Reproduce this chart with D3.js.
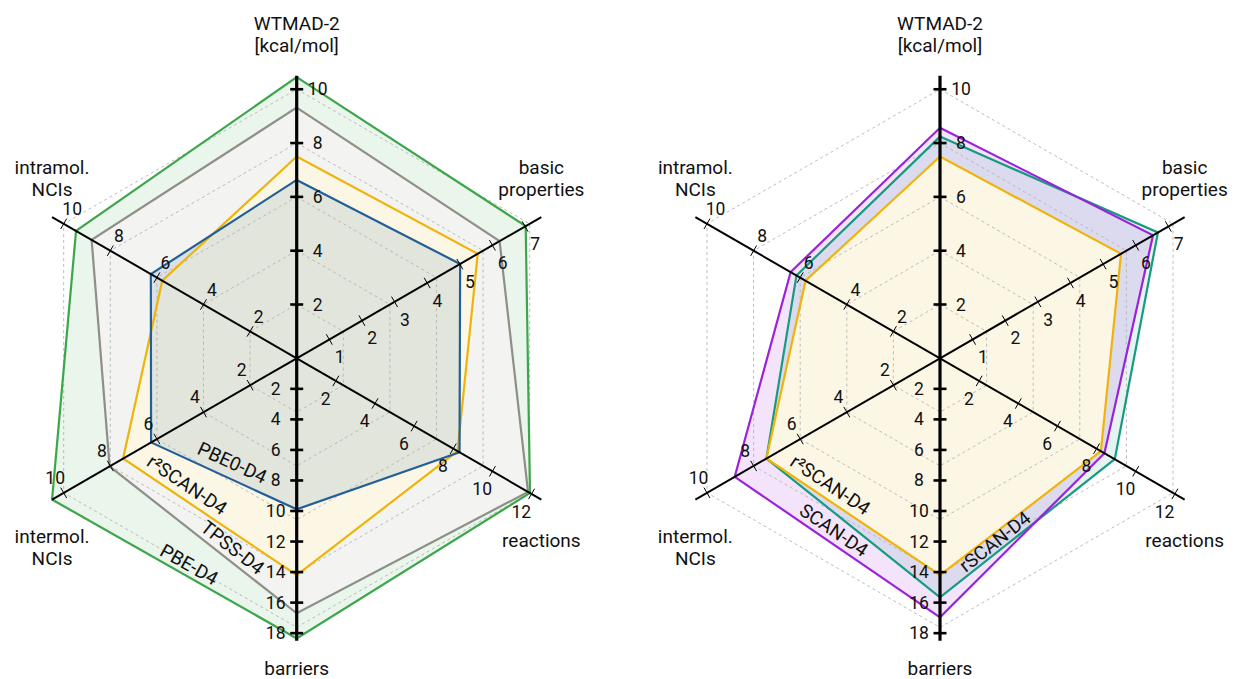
<!DOCTYPE html>
<html>
<head>
<meta charset="utf-8">
<script src="https://cdn.jsdelivr.net/npm/d3@7"></script>
<style>
  html, body { margin: 0; padding: 0; background: #fff; }
  svg { display: block; font-family: Roboto, "Liberation Sans", sans-serif; }
</style>
</head>
<body>
<svg id="chart" width="1234" height="679"></svg>
<script>
// ---- axes (clockwise from the top) ----
const axisTitles = [
  ["WTMAD-2", "[kcal/mol]"],
  ["basic", "properties"],
  ["reactions"],
  ["barriers"],
  ["intermol.", "NCIs"],
  ["intramol.", "NCIs"]
];
const axisMax = [10.5, 7.5, 12.5, 18.5, 10.5, 10.5];
const ticksWtmad = [2, 4, 6, 8, 10];
const ticksBasic = [1, 2, 3, 4, 5, 6, 7];
const ticksReactions = [2, 4, 6, 8, 10, 12];
const ticksBarriers = [2, 4, 6, 8, 10, 12, 14, 16, 18];
const ticksInter = [2, 4, 6, 8, 10];
const ticksIntra = [2, 4, 6, 8, 10];
const axisTicks = [ticksWtmad, ticksBasic, ticksReactions, ticksBarriers, ticksInter, ticksIntra];

// ---- mean absolute deviations per functional, in axis order ----
const pbeD4    = [10.45, 7.02, 11.92, 18.34, 10.50, 9.47];
const tpssD4   = [9.32, 6.22, 11.82, 16.70, 8.03, 8.80];
const r2scanD4 = [7.50, 5.55, 8.22, 14.20, 7.45, 5.77];
const pbe0D4   = [6.63, 5.01, 8.32, 9.89, 6.25, 6.26];
const scanD4   = [8.57, 6.53, 8.40, 16.96, 8.81, 6.41];
const rscanD4  = [8.24, 6.68, 8.93, 15.65, 7.45, 6.16];

// ---- series styling and label placement (edge between two axes) ----
const leftSeries = [
  { name: "PBE-D4",    values: pbeD4,    color: "#3ca64b", fill: "#3ca64b", fillOpacity: 0.11, label: { from: 4, to: 3, t: 0.538, off: 11 } },
  { name: "TPSS-D4",   values: tpssD4,   color: "#8e8f88", fill: "#f3f3f1", fillOpacity: 1,    label: { from: 4, to: 3, t: 0.617, off: 12 } },
  { name: "r²SCAN-D4", values: r2scanD4, color: "#efb40c", fill: "#fcf7e5", fillOpacity: 1,    label: { from: 4, to: 3, t: 0.324, off: 13.7 } },
  { name: "PBE0-D4",   values: pbe0D4,   color: "#225f99", fill: "#225f99", fillOpacity: 0.12, label: { from: 4, to: 3, t: 0.513, off: 15.5 } }
];
const rightSeries = [
  { name: "rSCAN-D4",  values: rscanD4,  color: "#169a80", fill: "#169a80", fillOpacity: 0.11, label: { from: 3, to: 2, t: 0.348, off: 9.5 } },
  { name: "SCAN-D4",   values: scanD4,   color: "#9b22dc", fill: "#9b22dc", fillOpacity: 0.12, label: { from: 4, to: 3, t: 0.45, off: 12 } },
  { name: "r²SCAN-D4", values: r2scanD4, color: "#efb40c", fill: "#fcf7e5", fillOpacity: 1,    label: { from: 4, to: 3, t: 0.324, off: 13.7 } }
];

const R = 282.5;
const svg = d3.select("#chart");
const angles = axisMax.map((_, i) => i * Math.PI / 3);
const scales = axisMax.map(m => d3.scaleLinear().domain([0, m]).range([0, R]));

function drawRadar(cx, cy, series) {
  const g = svg.append("g").attr("transform", `translate(${cx},${cy})`);
  const pt = (i, r) => [r * Math.sin(angles[i]), -r * Math.cos(angles[i])];
  const polyPoints = vals => vals.map((v, i) => pt(i, scales[i](v)));
  const line = d3.line().curve(d3.curveLinearClosed);

  // filled areas
  g.append("g").selectAll("path").data(series).join("path")
    .attr("d", s => line(polyPoints(s.values)))
    .attr("fill", s => s.fill)
    .attr("fill-opacity", s => s.fillOpacity)
    .attr("stroke", "none");

  // dashed hexagonal grid at the WTMAD-2 tick radii
  g.append("g").selectAll("path").data(ticksWtmad).join("path")
    .attr("d", v => line(angles.map((_, i) => pt(i, scales[0](v)))))
    .attr("fill", "none")
    .attr("stroke", "#b4b4b4")
    .attr("stroke-width", 0.9)
    .attr("stroke-dasharray", "3,3");

  // outlines
  g.append("g").selectAll("path").data(series).join("path")
    .attr("d", s => line(polyPoints(s.values)))
    .attr("fill", "none")
    .attr("stroke", s => s.color)
    .attr("stroke-width", 2.2)
    .attr("stroke-linejoin", "miter");

  // axes with ticks and tick labels
  const ax = g.append("g");
  angles.forEach((a, i) => {
    const vertical = (i === 0 || i === 3);
    const [ex, ey] = pt(i, R);
    ax.append("line")
      .attr("x1", 0).attr("y1", 0).attr("x2", ex).attr("y2", ey)
      .attr("stroke", "#000")
      .attr("stroke-width", vertical ? 3.2 : 2);
    const ux = Math.sin(a), uy = -Math.cos(a);   // along the axis
    const px = -uy, py = ux;                       // clockwise normal
    axisTicks[i].forEach(v => {
      const r = scales[i](v);
      const tx = ux * r, ty = uy * r;
      const half = vertical ? 6.5 : 6;
      ax.append("line")
        .attr("x1", tx - px * half).attr("y1", ty - py * half)
        .attr("x2", tx + px * half).attr("y2", ty + py * half)
        .attr("stroke", "#000")
        .attr("stroke-width", vertical ? 2.6 : 1);
      const d = vertical ? 21 : (py < 0 ? 17 : 20.5);
      ax.append("text")
        .attr("x", tx + px * d).attr("y", ty + py * d)
        .attr("text-anchor", "middle")
        .attr("dominant-baseline", "central")
        .attr("font-size", 17.5)
        .attr("fill", "#111")
        .text(v);
    });
  });

  // series names along one polygon edge, inside the polygon
  series.forEach(s => {
    const L = s.label;
    const [x1, y1] = pt(L.from, scales[L.from](s.values[L.from]));
    const [x2, y2] = pt(L.to, scales[L.to](s.values[L.to]));
    const dx = x2 - x1, dy = y2 - y1, len = Math.hypot(dx, dy);
    const mx = x1 + dx * L.t, my = y1 + dy * L.t;
    let nx = -dy / len, ny = dx / len;
    if (nx * -mx + ny * -my < 0) { nx = -nx; ny = -ny; }
    const x = mx + nx * L.off, y = my + ny * L.off;
    const ang = Math.atan2(dy, dx) * 180 / Math.PI;
    g.append("text")
      .attr("transform", `translate(${x},${y}) rotate(${ang})`)
      .attr("text-anchor", "middle")
      .attr("dominant-baseline", "central")
      .attr("font-size", 19)
      .attr("fill", "#111")
      .text(s.name);
  });

  // axis titles
  const titleBaselines = [
    ey => [ey - 46, ey - 24],
    ey => [ey - 43, ey - 21],
    ey => [ey + 47],
    ey => [ey + 34],
    ey => [ey + 43, ey + 65],
    ey => [ey - 43, ey - 21]
  ];
  axisTitles.forEach((lines, i) => {
    const [ex, ey] = pt(i, R);
    const ys = titleBaselines[i](ey);
    lines.forEach((t, k) => {
      g.append("text")
        .attr("x", ex).attr("y", ys[k])
        .attr("text-anchor", "middle")
        .attr("font-size", 19)
        .attr("fill", "#111")
        .text(t);
    });
  });
}

drawRadar(296.7, 358.3, leftSeries);
drawRadar(940, 358.3, rightSeries);
</script>
</body>
</html>
